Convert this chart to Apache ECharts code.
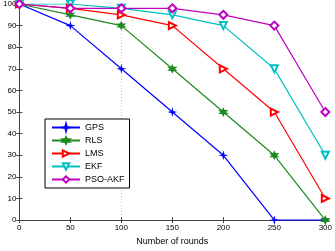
<!DOCTYPE html>
<html>
<head>
<meta charset="utf-8">
<script src="https://cdn.jsdelivr.net/npm/echarts@6/dist/echarts.min.js"></script>
<style>
  html, body {margin: 0; padding: 0; background: #fff;}
  #chart {width: 335px; height: 251px;}
</style>
</head>
<body>
<div id="chart"></div>
<script>
const rounds = [0, 50, 100, 150, 200, 250, 300]
const gps = [100, 90, 70, 50, 30, 0, 0]
const rls = [100, 95, 90, 70, 50, 30, 0]
const lms = [100, 98, 95, 90, 70, 50, 10]
const ekf = [100, 100, 98, 95, 90, 70, 30]
const psoAkf = [100, 98, 98, 98, 95, 90, 50]

const fontColor = '#000'
const font = 'Liberation Sans'
const clear = 'rgba(255,255,255,0)'

const mkSeries = (name, data, color, symbol, size) => ({
  name,
  type: 'line',
  data: rounds.map((x, i) => [x, data[i]]),
  symbol,
  symbolSize: size,
  color,
  lineStyle: {color, width: 1.2},
  itemStyle: {color, borderColor: color, borderWidth: 1.2},
  emphasis: {disabled: true},
  animation: false,
})

const chart = echarts.init(document.getElementById('chart'))
const axisCommon = {
  type: 'value',
  axisLine: {show: true, lineStyle: {color: '#444', width: 1}},
  axisTick: {inside: true, length: 3, lineStyle: {color: '#444'}},
}
// only the x=100 gridline survives in the picture
const xGrid = [clear, clear, '#c8c8c8', clear, clear, clear, clear]

chart.setOption({
  backgroundColor: '#fff',
  grid: {left: 17, right: 8, top: 4, bottom: 23},
  legend: {
    orient: 'vertical',
    left: 45,
    top: 119,
    padding: [4, 5, 4, 6],
    backgroundColor: '#fff',
    borderColor: '#000',
    borderWidth: 1,
    borderRadius: 0,
    itemWidth: 28,
    itemHeight: 8,
    itemGap: 4,
    textStyle: {fontSize: 9, color: fontColor, fontFamily: font},
    data: ['GPS', 'RLS', 'LMS', 'EKF', 'PSO-AKF'],
  },
  xAxis: [{
    ...axisCommon,
    min: 0,
    max: 300,
    interval: 50,
    name: 'Number of rounds',
    nameLocation: 'middle',
    nameGap: 13,
    nameTextStyle: {fontSize: 9, color: fontColor, fontFamily: font},
    axisLabel: {fontSize: 8, color: fontColor, fontFamily: font, margin: 4},
    splitLine: {show: true, lineStyle: {color: xGrid, type: [1, 2], width: 1}},
  }, {
    ...axisCommon,
    position: 'top',
    min: 0,
    max: 300,
    interval: 50,
    axisLabel: {show: false},
    splitLine: {show: false},
  }],
  yAxis: [{
    ...axisCommon,
    min: 0,
    max: 100,
    interval: 10,
    axisLabel: {fontSize: 8, color: fontColor, fontFamily: font, margin: 3},
    splitLine: {show: false},
  }, {
    ...axisCommon,
    position: 'right',
    min: 0,
    max: 100,
    interval: 10,
    axisLabel: {show: false},
    splitLine: {show: false},
  }],
  series: [
    mkSeries('GPS', gps, '#0000ff', 'path://M5,0 L6,4 L10,5 L6,6 L5,10 L4,6 L0,5 L4,4 Z', 5),
    mkSeries('RLS', rls, '#1e8a1e', 'path://M5,0 L6.5,3 L10,3 L7.5,5 L10,7 L6.5,7 L5,10 L3.5,7 L0,7 L2.5,5 L0,3 L3.5,3 Z', 7),
    mkSeries('LMS', lms, '#ff0000', 'emptyPath://M0,0 L10,5 L0,10 Z', 7),
    mkSeries('EKF', ekf, '#00c0c0', 'emptyPath://M0,0 L10,0 L5,9 Z', 7),
    mkSeries('PSO-AKF', psoAkf, '#c000c0', 'emptyDiamond', 8),
  ],
})
</script>
</body>
</html>
